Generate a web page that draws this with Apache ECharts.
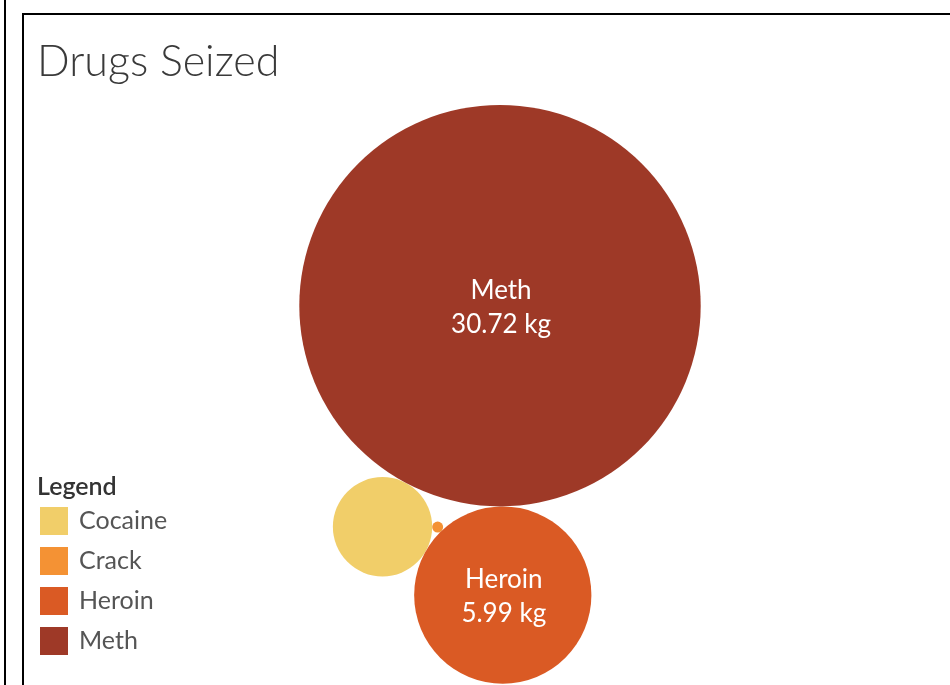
<!DOCTYPE html>
<html>
<head>
<meta charset="utf-8">
<script src="https://cdn.jsdelivr.net/npm/echarts@6/dist/echarts.min.js"></script>
<style>html,body{margin:0;padding:0;background:#fff}#c{width:950px;height:685px}</style>
</head>
<body>
<div id="c"></div>
<script>
// ---- data ----
const drugs = ['Cocaine', 'Crack', 'Heroin', 'Meth'];
const seizedKg = [1.88, 0.023, 5.99, 30.72];
const colors = ['#F1CE69', '#F49234', '#DA5A24', '#9E3927'];
const titleText = 'Drugs Seized';
const legendTitle = 'Legend';

// ---- packed-bubble layout (radius = sqrt(value), in axis units) ----
const rad = v => Math.sqrt(v);
function tangent(ca, ra, cb, rb, r, sideSign) {
  const dx = cb[0] - ca[0], dy = cb[1] - ca[1];
  const d = Math.hypot(dx, dy);
  const da = ra + r, db = rb + r;
  const a = (da * da - db * db + d * d) / (2 * d);
  const h = Math.sqrt(Math.max(0, da * da - a * a));
  const ux = dx / d, uy = dy / d;
  const bx = ca[0] + a * ux, by = ca[1] + a * uy;
  return [bx + sideSign * h * -uy, by + sideSign * h * ux];
}
const iMeth = 3, iHeroin = 2, iCocaine = 0, iCrack = 1;
const pos = [];
const R = seizedKg.map(rad);
pos[iMeth] = [0, 0];
const ang = 89.45 * Math.PI / 180; // heroin sits just below meth
pos[iHeroin] = [(R[iMeth] + R[iHeroin]) * Math.cos(ang), (R[iMeth] + R[iHeroin]) * Math.sin(ang)];
pos[iCocaine] = tangent(pos[iMeth], R[iMeth], pos[iHeroin], R[iHeroin], R[iCocaine], 1);
pos[iCrack] = tangent(pos[iCocaine], R[iCocaine], pos[iHeroin], R[iHeroin], R[iCrack], -1);

const pxPerUnit = 36.21;
const W = 950, H = 685, cxPx = 500, cyPx = 305.7;

const chart = echarts.init(document.getElementById('c'), null, {renderer: 'canvas'});

const series = drugs.map((name, i) => ({
  name: name,
  type: 'custom',
  coordinateSystem: 'cartesian2d',
  itemStyle: {color: colors[i]},
  data: [[pos[i][0], pos[i][1], R[i], seizedKg[i]]],
  encode: {x: 0, y: 1},
  renderItem: function (params, api) {
    const c = api.coord([api.value(0), api.value(1)]);
    const rp = api.size([api.value(2), api.value(2)])[0];
    const children = [{
      type: 'circle',
      shape: {cx: c[0], cy: c[1], r: rp},
      style: {fill: api.visual('color')}
    }];
    if (rp > 60) {
      children.push({
        type: 'text',
        x: c[0] + 1, y: c[1] + 2,
        style: {
          text: name + '\n' + api.value(3).toFixed(2) + ' kg',
          fill: '#ffffff',
          font: '26px Lato',
          align: 'center',
          verticalAlign: 'middle',
          lineHeight: 34
        }
      });
    }
    return {type: 'group', children: children};
  }
}));

chart.setOption({
  animation: false,
  backgroundColor: '#fff',
  title: {
    text: titleText, left: 32, top: 36,
    textStyle: {fontFamily: 'Lato', fontSize: 43, fontWeight: 300, color: '#3a3a3a'}
  },
  grid: {left: 0, right: 0, top: 0, bottom: 0},
  xAxis: {type: 'value', show: false, min: -cxPx / pxPerUnit, max: (W - cxPx) / pxPerUnit},
  yAxis: {type: 'value', show: false, inverse: true, min: -cyPx / pxPerUnit, max: (H - cyPx) / pxPerUnit},
  legend: {
    orient: 'vertical', left: 40, top: 507, padding: 0,
    icon: 'rect', itemWidth: 28, itemHeight: 28, itemGap: 12,
    textStyle: {fontFamily: 'Lato', fontSize: 25, color: '#555', padding: [0, 0, 0, 6]},
    selectedMode: false,
    data: drugs
  },
  graphic: [
    {type: 'text', left: 37, top: 474, style: {text: legendTitle, font: '600 25px Lato', fill: '#333'}},
    {type: 'rect', shape: {x: 4, y: -10, width: 2, height: 720}, style: {fill: '#000'}},
    {type: 'rect', shape: {x: 23, y: 14, width: 1000, height: 800}, style: {fill: 'none', stroke: '#000', lineWidth: 2}}
  ],
  series: series
});
</script>
</body>
</html>
